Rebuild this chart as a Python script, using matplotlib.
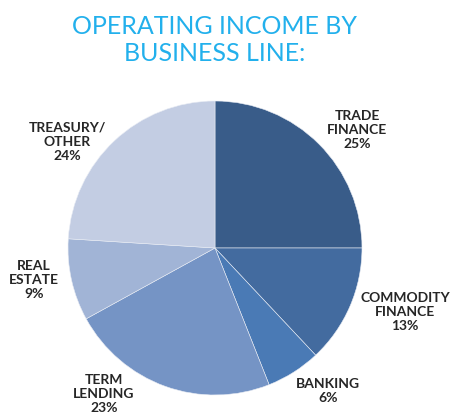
import matplotlib
matplotlib.use("Agg")
import matplotlib.pyplot as plt

# share of operating income by business line (%)
segments = ["TRADE\nFINANCE", "COMMODITY\nFINANCE", "BANKING", "TERM\nLENDING", "REAL\nESTATE", "TREASURY/\nOTHER"]
shares = [25, 13, 6, 23, 9, 24]
colors = ["#395c89", "#436b9f", "#4a7ab5", "#7594c5", "#a1b4d6", "#c3cde3"]

# label anchor points in pixel space (x, y from top)
label_pos = [(357, 130), (405, 312), (328, 391), (104, 394), (34, 280), (67, 142)]

W, H = 451, 416

fig = plt.figure(figsize=(W / 100, H / 100), dpi=100)
ax = fig.add_axes([0, 0, 1, 1])
ax.set_aspect("equal")
ax.axis("off")

ax.pie(
    shares,
    colors=colors,
    startangle=90,
    counterclock=False,
    center=(215, H - 248),
    radius=147,
    wedgeprops={"edgecolor": "#e8ecf4", "linewidth": 0.4},
)
ax.set_xlim(0, W)
ax.set_ylim(0, H)

for name, val, (x, y) in zip(segments, shares, label_pos):
    ax.text(x, H - y, f"{name}\n{val}%", ha="center", va="center",
            fontsize=10, family="Lato", fontweight="bold",
            color="#262626", linespacing=1.25)

ax.text(215, H - 40, "OPERATING INCOME BY\nBUSINESS LINE:", ha="center", va="center",
        fontsize=18, family="Lato", fontweight="normal", color="#22b0ec",
        linespacing=1.2)

fig.savefig("out.png", dpi=100)
